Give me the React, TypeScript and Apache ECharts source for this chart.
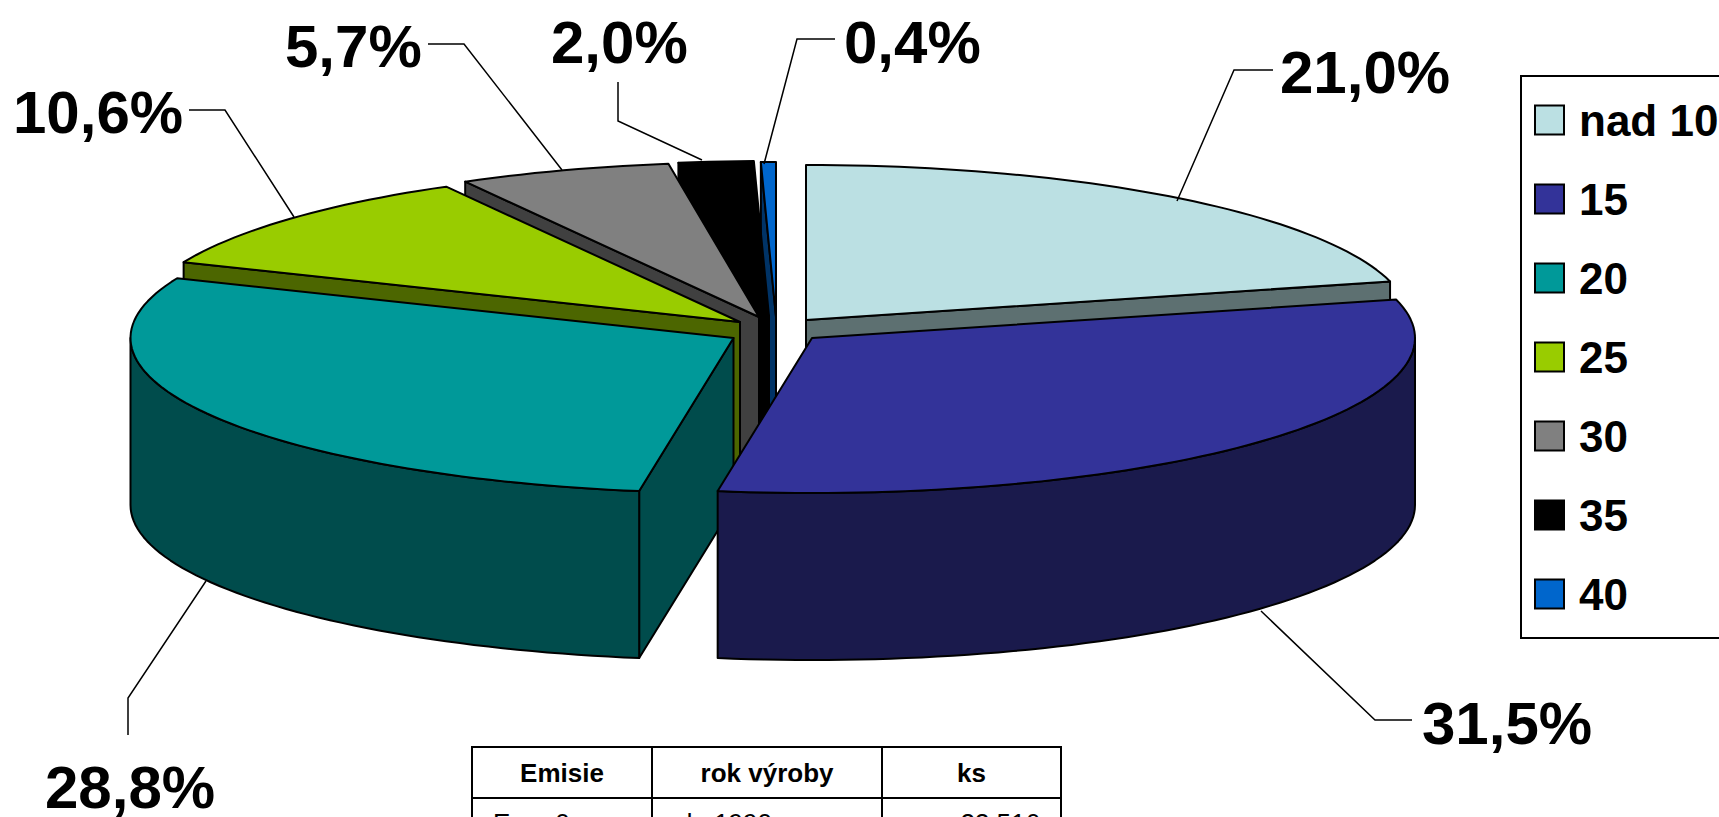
import React, { useEffect, useRef } from "react";
import * as echarts from "echarts";

// Data
const categories = ["nad 10", "15", "20", "25", "30", "35", "40"];
const shares = [21.0, 31.5, 28.8, 10.6, 5.7, 2.0, 0.4];
const tableHeader = ["Emisie", "rok výroby", "ks"];
const tableRow = ["Euro 0", "do 1990", "23 516"];

// Styles
const topColors = ["#BBE0E3", "#333399", "#009999", "#99CC00", "#808080", "#000000", "#0066CC"];
const sideColors = ["#5D7071", "#1A1A4C", "#004C4C", "#4C6600", "#404040", "#000000", "#003366"];
const paintOrder = [5, 7, 6, 4, 3, 2, 1];

// Pie geometry
const CX = 777;
const CY = 330;
const RX = 603;
const RY = 155;
const DEPTH = 167;
const explode = [
  [29, -10],
  [35, 8],
  [-43.5, 8],
  [-37, -8],
  [-18, -13],
  [-8, -14],
  [-1, -13],
];
const FONT = '"Liberation Sans", Arial, sans-serif';

const starts: number[] = [];
shares.reduce((acc, v, i) => {
  starts[i] = acc;
  return acc + v;
}, 0);

const deg = (pct: number) => (pct / 100) * 360;

function rimPoint(ax: number, ay: number, a: number, drop = 0) {
  const t = (a * Math.PI) / 180;
  return [ax + RX * Math.sin(t), ay - RY * Math.cos(t) + drop];
}

function arcPoints(ax: number, ay: number, a0: number, a1: number, drop = 0) {
  const n = Math.max(2, Math.ceil(Math.abs(a1 - a0) / 1.5));
  const pts: number[][] = [];
  for (let i = 0; i <= n; i++) pts.push(rimPoint(ax, ay, a0 + ((a1 - a0) * i) / n, drop));
  return pts;
}

function makeRenderItem(idx: number) {
  return (_params: any, api: any) => {
    const a0 = deg(api.value(0));
    const a1 = deg(api.value(0) + api.value(1));
    const ax = CX + explode[idx][0];
    const ay = CY + explode[idx][1];
    const stroke = { stroke: "#000", lineWidth: 2, lineJoin: "round" };
    const side = { ...stroke, fill: sideColors[idx] };
    const children: any[] = [];
    const radialFace = (a: number) => {
      const p = rimPoint(ax, ay, a);
      children.push({
        type: "polygon",
        shape: { points: [[ax, ay], p, [p[0], p[1] + DEPTH], [ax, ay + DEPTH]] },
        style: side,
      });
    };
    // end face is seen on the right half, start face on the left half
    if (Math.sin((a0 * Math.PI) / 180) < 0) radialFace(a0);
    if (Math.sin((a1 * Math.PI) / 180) > 0) radialFace(a1);
    // outer wall: only the front half of the rim
    const w0 = Math.max(a0, 90);
    const w1 = Math.min(a1, 270);
    if (w1 > w0) {
      const upper = arcPoints(ax, ay, w0, w1);
      const lower = arcPoints(ax, ay, w1, w0, DEPTH);
      children.push({ type: "polygon", shape: { points: [...upper, ...lower] }, style: side });
    }
    // top surface
    children.push({
      type: "polygon",
      shape: { points: [[ax, ay], ...arcPoints(ax, ay, a0, a1)] },
      style: { ...stroke, fill: topColors[idx] },
    });
    return { type: "group", children };
  };
}

const pctLabel = (v: number) => v.toFixed(1).replace(".", ",") + "%";

// label anchor and leader line per slice
const labelPlacement = [
  { x: 1280, y: 72, line: [[1273, 70], [1234, 70], [1177, 201]] },
  { x: 1422, y: 723, line: [[1412, 720], [1375, 720], [1261, 611]] },
  { x: 45, y: 787, line: [[128, 735], [128, 698], [206, 581]] },
  { x: 13, y: 112, line: [[189, 110], [225, 110], [294, 217]] },
  { x: 285, y: 46, line: [[428, 44], [464, 44], [562, 170]] },
  { x: 551, y: 42, line: [[618, 82], [618, 121], [702, 160]] },
  { x: 844, y: 42, line: [[835, 39], [797, 39], [764, 164]] },
];

const TABLE_COLS = [472, 652, 882, 1061];
const TABLE_TOP = 747;
const TABLE_MID = 798;
const TABLE_BOTTOM = 830;

function buildGraphic() {
  const elements: any[] = [];
  shares.forEach((v, i) => {
    const p = labelPlacement[i];
    elements.push({
      type: "polyline",
      shape: { points: p.line },
      style: { stroke: "#000", lineWidth: 1.5, fill: "none" },
      z: 100,
    });
    elements.push({
      type: "text",
      x: p.x,
      y: p.y,
      style: {
        text: pctLabel(v),
        font: `bold 60px ${FONT}`,
        fill: "#000",
        textAlign: "left",
        textVerticalAlign: "middle",
      },
      z: 100,
    });
  });
  const tableLine = (x1: number, y1: number, x2: number, y2: number) => ({
    type: "line",
    shape: { x1, y1, x2, y2 },
    style: { stroke: "#000", lineWidth: 2 },
    z: 100,
  });
  TABLE_COLS.forEach((x) => elements.push(tableLine(x, TABLE_TOP, x, TABLE_BOTTOM)));
  elements.push(tableLine(TABLE_COLS[0] - 1, TABLE_TOP, TABLE_COLS[3] + 1, TABLE_TOP));
  elements.push(tableLine(TABLE_COLS[0] - 1, TABLE_MID, TABLE_COLS[3] + 1, TABLE_MID));
  tableHeader.forEach((t, i) => {
    elements.push({
      type: "text",
      x: (TABLE_COLS[i] + TABLE_COLS[i + 1]) / 2,
      y: 773,
      style: {
        text: t,
        font: `bold 26px ${FONT}`,
        fill: "#000",
        textAlign: "center",
        textVerticalAlign: "middle",
      },
      z: 100,
    });
  });
  const rowX = [493, 678, 1040];
  const rowAlign = ["left", "left", "right"];
  tableRow.forEach((t, i) => {
    elements.push({
      type: "text",
      x: rowX[i],
      y: 823,
      style: {
        text: t,
        font: `26px ${FONT}`,
        fill: "#000",
        textAlign: rowAlign[i],
        textVerticalAlign: "middle",
      },
      z: 100,
    });
  });
  return elements;
}

export default function App() {
  const ref = useRef<HTMLDivElement>(null);
  useEffect(() => {
    document.body.style.margin = "0";
    document.body.style.overflow = "hidden";
    const chart = echarts.init(ref.current!, undefined, { renderer: "svg" });
    chart.setOption({
      animation: false,
      backgroundColor: "#fff",
      legend: {
        orient: "vertical",
        left: 1521,
        top: 76,
        padding: [22, 60, 22, 13],
        itemWidth: 29,
        itemHeight: 29,
        itemGap: 35,
        icon: "rect",
        borderColor: "#000",
        borderWidth: 2,
        selectedMode: false,
        data: categories,
        itemStyle: { borderColor: "#000", borderWidth: 2 },
        textStyle: {
          fontFamily: FONT,
          fontWeight: "bold",
          fontSize: 44,
          color: "#000",
          lineHeight: 29,
          padding: [0, 0, 0, 10],
        },
      },
      series: categories.map((name, i) => ({
        type: "custom",
        name,
        coordinateSystem: "none",
        z: paintOrder[i],
        silent: true,
        itemStyle: { color: topColors[i] },
        renderItem: makeRenderItem(i),
        data: [[starts[i], shares[i]]],
      })),
      graphic: { elements: buildGraphic() },
    });
    return () => chart.dispose();
  }, []);
  return (
    <div
      ref={ref}
      style={{ width: 1719, height: 817, position: "fixed", left: 0, top: 0, overflow: "hidden" }}
    />
  );
}
